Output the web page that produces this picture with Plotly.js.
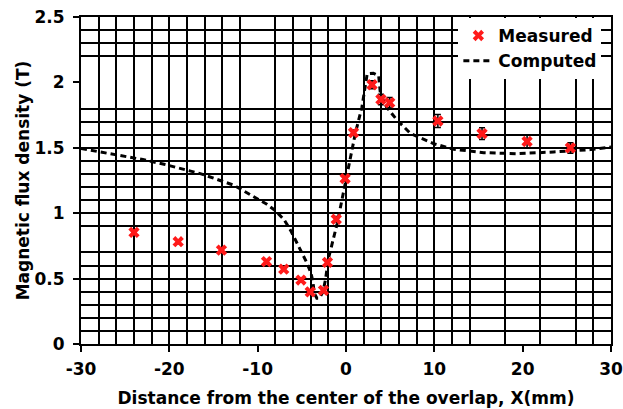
<!DOCTYPE html>
<html>
<head>
<meta charset="utf-8">
<script src="https://cdn.plot.ly/plotly-3.0.1.min.js"></script>
<style>html,body{margin:0;padding:0;background:#fff;}#chart{width:623px;height:409px;}</style>
</head>
<body>
<div id="chart"></div>
<script>
// Measured points (red crosses)
const measX = [-24, -19, -14.1, -9, -7.05, -5.1, -4.05, -2.55, -2.1, -1.1, -0.1, 0.85, 2.95, 3.95, 4.95, 10.4, 15.4, 20.5, 25.4];
const measY = [0.853, 0.782, 0.718, 0.63, 0.572, 0.489, 0.398, 0.41, 0.624, 0.954, 1.265, 1.616, 1.982, 1.87, 1.845, 1.705, 1.608, 1.548, 1.499];
const measErr = [0.015, 0.015, 0.015, 0.015, 0.015, 0.015, 0.015, 0.015, 0.015, 0.02, 0.02, 0.02, 0.03, 0.04, 0.04, 0.05, 0.045, 0.05, 0.04];

// Computed curve (black dashed)
const compX = [-30, -26.3, -23, -20.6, -16.5, -12.7, -11, -10, -9, -8, -7, -6.2, -5.5, -5.1, -4.5, -4.0, -3.75, -3.6, -3.3, -3.0, -2.6, -2.3, -2.0, -1.0, -0.25, 0.5, 1.05, 1.8, 2.2, 2.4, 3.1, 3.7, 3.9, 4.6, 5.8, 7.3, 9.9, 12.2, 15.6, 19.4, 23.5, 27.7, 30];
const compY = [1.494, 1.45, 1.41, 1.374, 1.303, 1.214, 1.15, 1.11, 1.07, 1.02, 0.95, 0.86, 0.77, 0.71, 0.63, 0.55, 0.48, 0.39, 0.35, 0.35, 0.4, 0.5, 0.65, 0.921, 1.176, 1.43, 1.608, 1.81, 1.99, 2.066, 2.07, 2.05, 1.91, 1.81, 1.71, 1.61, 1.532, 1.489, 1.463, 1.455, 1.468, 1.486, 1.506];

// Irregular grid lines seen in the picture
const gridX = [-28, -26, -24, -22, -20, -18, -16, -14, -12, -8, -6, -4, -2, 0, 2, 4, 6, 8, 10, 12, 14, 18, 22, 26, 28];
const gridY = [0.1, 0.2, 0.3, 0.4, 0.5, 0.6, 0.7, 0.9, 1.0, 1.1, 1.2, 1.3, 1.4, 1.5, 1.6, 1.7, 1.8, 2.2, 2.3, 2.4];

// Tick labels
const xTickVals = [-30, -20, -10, 0, 10, 20, 30];
const xTickText = ['-30', '-20', '-10', '0', '10', '20', '30'];
const yTickVals = [0, 0.5, 1, 1.5, 2, 2.5];
const yTickText = ['0', '0.5', '1', '1.5', '2', '2.5'];

const FONT = 'DejaVu Sans, sans-serif';

const traces = [
  {x: [], y: [], xaxis: 'x2', yaxis: 'y2', showlegend: false, hoverinfo: 'skip', type: 'scatter'},
  {x: compX, y: compY, name: 'Computed', type: 'scatter', mode: 'lines', legendrank: 2,
   line: {color: '#000', width: 3, dash: '6px,4px'}},
  {x: measX, y: measY, name: 'Measured', type: 'scatter', mode: 'markers', legendrank: 1,
   marker: {symbol: 'x', size: 10, color: '#ff1a1a', line: {width: 0}},
   error_y: {type: 'data', array: measErr, color: '#000', thickness: 1.5, width: 3}}
];

const layout = {
  width: 623, height: 409,
  margin: {l: 81, r: 12, t: 17, b: 65},
  paper_bgcolor: '#fff', plot_bgcolor: '#fff',
  font: {family: FONT, color: '#000'},
  showlegend: true,
  legend: {x: 0.712, y: 0.997, xanchor: 'left', yanchor: 'top', bgcolor: '#fff', borderwidth: 0,
           font: {family: FONT, size: 17, weight: 'bold'}, traceorder: 'normal'},
  xaxis: {range: [-30, 30], tickmode: 'array', tickvals: xTickVals, ticktext: xTickText,
          showgrid: false, zeroline: false, showline: true, linewidth: 2, linecolor: '#000', mirror: true,
          ticks: 'outside', ticklen: 6, tickwidth: 2, tickcolor: '#000', ticklabelstandoff: 3,
          tickfont: {family: FONT, size: 17, weight: 'bold'},
          title: {text: 'Distance from the center of the overlap, X(mm)', font: {family: FONT, size: 17, weight: 'bold'}, standoff: 14}},
  yaxis: {range: [0, 2.5], tickmode: 'array', tickvals: yTickVals, ticktext: yTickText,
          showgrid: false, zeroline: false, showline: true, linewidth: 2, linecolor: '#000', mirror: true,
          ticks: 'outside', ticklen: 6, tickwidth: 2, tickcolor: '#000', ticklabelstandoff: 5,
          tickfont: {family: FONT, size: 17, weight: 'bold'},
          title: {text: 'Magnetic flux density (T)', font: {family: FONT, size: 17, weight: 'bold'}, standoff: 1}},
  xaxis2: {overlaying: 'x', anchor: 'y', range: [-30, 30], tickmode: 'array', tickvals: gridX,
           showticklabels: false, ticks: '', showgrid: true, gridcolor: '#000', gridwidth: 2, zeroline: false, showline: false},
  yaxis2: {overlaying: 'y', anchor: 'x', range: [0, 2.5], tickmode: 'array', tickvals: gridY,
           showticklabels: false, ticks: '', showgrid: true, gridcolor: '#000', gridwidth: 2, zeroline: false, showline: false}
};

Plotly.newPlot('chart', traces, layout, {displayModeBar: false, staticPlot: true});
</script>
</body>
</html>
